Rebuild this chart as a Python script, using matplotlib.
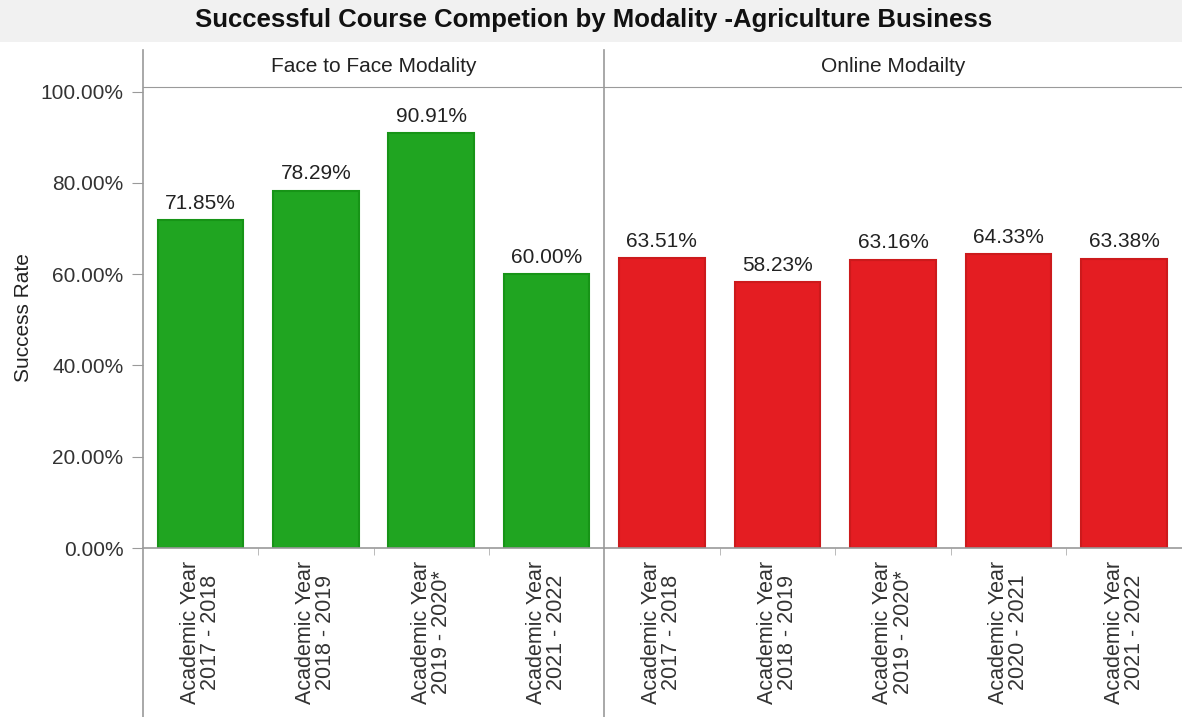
import matplotlib.pyplot as plt
from matplotlib.lines import Line2D
from matplotlib.patches import Rectangle

plt.rcParams['font.family'] = ['Liberation Sans', 'DejaVu Sans']

# success rates (%) per academic year, split by modality
f2f_years = ["Academic Year\n2017 - 2018", "Academic Year\n2018 - 2019",
             "Academic Year\n2019 - 2020*", "Academic Year\n2021 - 2022"]
f2f_rates = [71.85, 78.29, 90.91, 60.00]

online_years = ["Academic Year\n2017 - 2018", "Academic Year\n2018 - 2019",
                "Academic Year\n2019 - 2020*", "Academic Year\n2020 - 2021",
                "Academic Year\n2021 - 2022"]
online_rates = [63.51, 58.23, 63.16, 64.33, 63.38]

W, H = 1182, 717
fig = plt.figure(figsize=(W / 100, H / 100), dpi=100)
fig.patch.set_facecolor('white')

# soft grey band behind the title
fig.add_artist(Rectangle((0, 1 - 42 / H), 1, 42 / H, transform=fig.transFigure,
                         facecolor='#f1f1f1', edgecolor='none', zorder=0))

left, split, top, bottom = 143, 604, 87, 548
ax1 = fig.add_axes([left / W, (H - bottom) / H, (split - left) / W, (bottom - top) / H])
ax2 = fig.add_axes([split / W, (H - bottom) / H, (W - split) / W, (bottom - top) / H], sharey=ax1)

grid_c = '#9a9a9a'
panels = [
    (ax1, f2f_years, f2f_rates, '#20a521', '#179417', 'Face to Face Modality'),
    (ax2, online_years, online_rates, '#e41d22', '#cc1a1c', 'Online Modailty'),
]
for ax, years, rates, color, edge, header in panels:
    x = range(len(rates))
    ax.bar(x, rates, width=0.74, color=color, edgecolor=edge, linewidth=1.5, zorder=2)
    for xi, v in zip(x, rates):
        ax.text(xi, v + 1.6, f"{v:.2f}%", ha='center', va='bottom', fontsize=15, color='#222222')
    ax.set_xlim(-0.5, len(rates) - 0.5)
    ax.set_xticks(list(x))
    ax.set_xticklabels(years, rotation=90, fontsize=15.5, color='#333333', linespacing=0.95)
    ax.set_xticks([i + 0.5 for i in range(len(rates) - 1)], minor=True)
    ax.tick_params(axis='x', which='major', length=0, pad=9)
    ax.tick_params(axis='x', which='minor', length=5, color='#b0b0b0')
    for s in ('left', 'right'):
        ax.spines[s].set_visible(False)
    ax.spines['top'].set_color(grid_c)
    ax.spines['bottom'].set_color(grid_c)
    ax.spines['bottom'].set_linewidth(1.2)
    ax.text(0.5, 1 + (top - 67) / (bottom - top), header, transform=ax.transAxes,
            ha='center', va='center', fontsize=15, color='#222222')

ax1.set_ylim(0, 101)
ax1.set_yticks([0, 20, 40, 60, 80, 100])
ax1.set_yticklabels([f"{t:.2f}%" for t in [0, 20, 40, 60, 80, 100]], fontsize=15, color='#333333')
ax1.tick_params(axis='y', length=8, color=grid_c, pad=6)
ax2.tick_params(axis='y', left=False, labelleft=False)
ax1.set_ylabel("Success Rate", fontsize=15, color='#222222')
ax1.yaxis.set_label_coords(-(left - 33) / (split - left), 0.5)

# panel separators running from the header down through the tick labels
for px in (left, split):
    fig.add_artist(Line2D([px / W, px / W], [0, 1 - 50 / H], transform=fig.transFigure,
                          color=grid_c, linewidth=1.2))

fig.text(594 / W, 1 - 20 / H, "Successful Course Competion by Modality -Agriculture Business",
         ha='center', va='center', fontsize=18.5, fontweight='bold', color='#111111')

fig.savefig('out.png', dpi=100)
